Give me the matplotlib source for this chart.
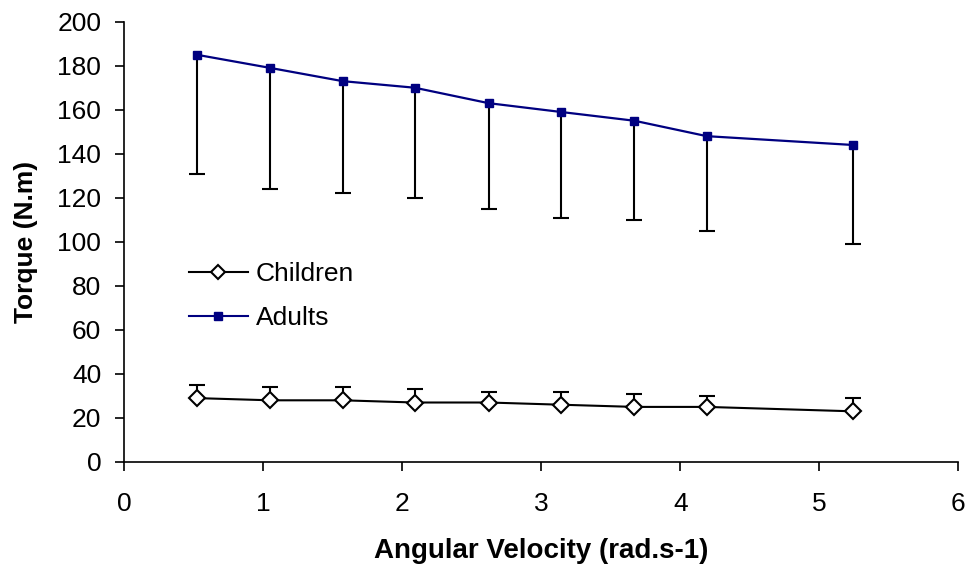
import numpy as np
import matplotlib
matplotlib.use('Agg')
import matplotlib.pyplot as plt
from matplotlib.lines import Line2D

plt.rcParams['font.family'] = ['Liberation Sans', 'DejaVu Sans']

# angular velocity (rad/s)
velocity = [0.52, 1.05, 1.57, 2.09, 2.62, 3.14, 3.67, 4.19, 5.24]

adults = [185, 179, 173, 170, 163, 159, 155, 148, 144]
adults_low = [131, 124, 122, 120, 115, 111, 110, 105, 99]

children = [29, 28, 28, 27, 27, 26, 25, 25, 23]
children_high = [35, 34, 34, 33, 32, 32, 31, 30, 29]

fig = plt.figure(figsize=(9.71, 5.71), dpi=100)
ax = fig.add_axes([0.128, 0.191, 0.859, 0.771])

# one-sided error bars: stems + caps
ax.vlines(velocity, adults_low, adults, color='black', lw=1.5, zorder=2)
ax.plot(velocity, adults_low, ls='none', marker='_', markersize=11,
        markeredgewidth=1.5, color='black', zorder=2)
ax.vlines(velocity, children, children_high, color='black', lw=1.5, zorder=2)
ax.plot(velocity, children_high, ls='none', marker='_', markersize=11,
        markeredgewidth=1.5, color='black', zorder=2)

ax.plot(velocity, children, color='black', lw=1.5,
        marker='D', markersize=8, markerfacecolor='white',
        markeredgecolor='black', markeredgewidth=1.5, zorder=3)
ax.plot(velocity, adults, color='#000080', lw=1.6,
        marker='s', markersize=6, markerfacecolor='#000080',
        markeredgecolor='#000080', zorder=3)

ax.set_xlim(0, 6)
ax.set_ylim(0, 200)
ax.set_xticks(range(0, 7))
ax.set_yticks(range(0, 201, 20))
ax.spines['top'].set_visible(False)
ax.spines['right'].set_visible(False)
ax.spines['left'].set_linewidth(1.2)
ax.spines['bottom'].set_linewidth(1.2)
ax.tick_params(direction='out', length=6.5, width=1.2, labelsize=19)
ax.tick_params(axis='y', pad=10)
ax.tick_params(axis='x', pad=15)

ax.set_xlabel('Angular Velocity (rad.s-1)', fontsize=20, fontweight='bold', labelpad=16)
ax.set_ylabel('Torque (N.m)', fontsize=19, fontweight='bold', labelpad=14)

h1 = Line2D([], [], color='black', lw=1.5, marker='D', markersize=7,
            markerfacecolor='white', markeredgecolor='black', markeredgewidth=1.5)
h2 = Line2D([], [], color='#000080', lw=1.5, marker='s', markersize=6,
            markerfacecolor='#000080', markeredgecolor='#000080')
ax.legend([h1, h2], ['Children', 'Adults'], loc='upper left',
          bbox_to_anchor=(0.055, 0.495), frameon=False, fontsize=19,
          handlelength=2.25, handletextpad=0.3, labelspacing=0.73,
          borderpad=0.2)

fig.savefig('out.png', dpi=100)
